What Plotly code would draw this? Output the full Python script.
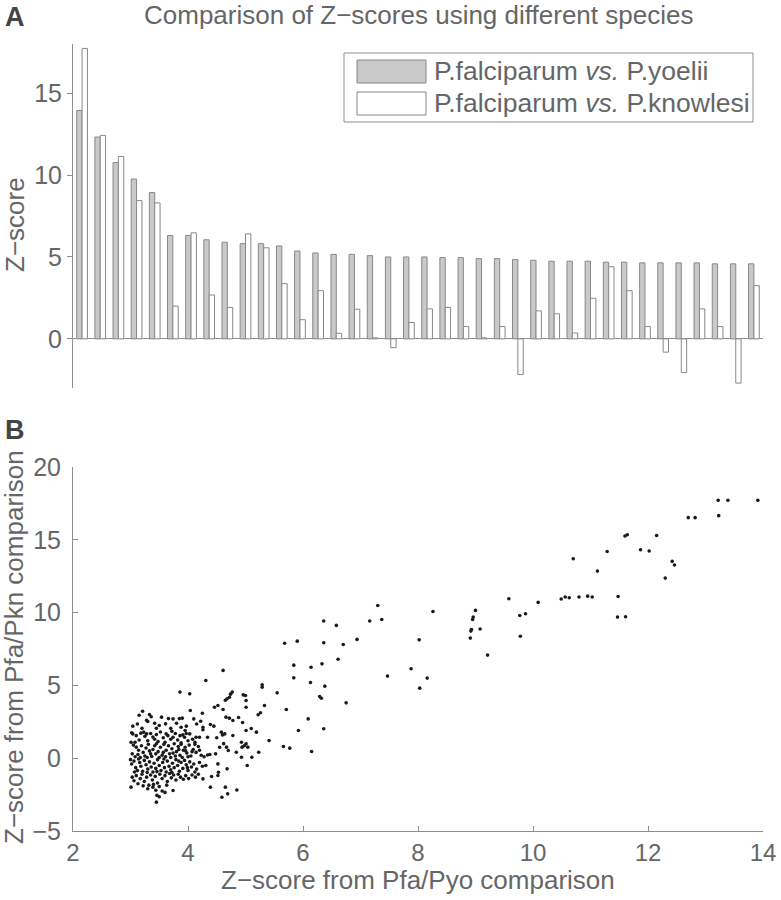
import plotly.graph_objects as go

# ---------------- data ----------------
# Panel A: Z-scores for the top-ranked genes (sorted by P.falciparum vs P.yoelii)
rank = list(range(1, 39))
z_pyo = [13.94, 12.32, 10.76, 9.76, 8.93, 6.31, 6.31, 6.05, 5.90, 5.81,
         5.81, 5.67, 5.36, 5.24, 5.16, 5.16, 5.08, 5.00, 5.00, 5.00,
         4.96, 4.96, 4.90, 4.90, 4.84, 4.80, 4.74, 4.74, 4.74, 4.68,
         4.68, 4.64, 4.64, 4.64, 4.64, 4.58, 4.58, 4.58]
z_pkn = [17.73, 12.42, 11.13, 8.44, 8.30, 2.00, 6.47, 2.68, 1.92, 6.41,
         5.56, 3.37, 1.17, 2.94, 0.34, 1.81, 0.06, -0.54, 1.00, 1.83,
         1.92, 0.75, 0.06, 0.75, -2.18, 1.71, 1.53, 0.36, 2.48, 4.40,
         2.94, 0.75, -0.81, -2.06, 1.83, 0.75, -2.70, 3.25]

# Panel B: Z-score from Pfa/Pyo (x) vs Z-score from Pfa/Pkn (y)
scatter_pyo = [
    # upper cluster rim
    3.04, 3.02, 3.15, 3.21, 3.30, 3.28, 3.36, 3.42, 3.54, 3.61, 3.66, 3.74, 3.85, 3.90, 3.86, 4.03,
    4.04, 4.10, 4.22, 4.25, 4.31, 3.45, 3.88, 4.26, 4.39, 3.97, 3.70, 3.20, 3.12, 3.50, 4.15, 3.80, 3.33,
    # y 1..2
    3.04, 3.10, 3.18, 3.23, 3.28, 3.25, 3.35, 3.39, 3.45, 3.52, 3.57, 3.62, 3.65, 3.70, 3.74, 3.78,
    3.82, 3.86, 3.91, 3.94, 3.97, 4.03, 4.08, 4.14, 4.20, 4.26, 4.34, 3.15, 3.30, 3.48, 3.60, 3.88,
    4.00, 4.12, 3.08, 3.42, 3.72, 3.95,
    # y 0..1
    3.01, 3.05, 3.10, 3.14, 3.19, 3.22, 3.27, 3.31, 3.35, 3.39, 3.42, 3.45, 3.48, 3.52, 3.55, 3.58,
    3.62, 3.66, 3.68, 3.72, 3.76, 3.80, 3.83, 3.86, 3.88, 3.92, 3.95, 3.98, 4.02, 4.05, 4.09, 4.14,
    4.18, 4.23, 4.28, 4.34, 3.03, 3.08, 3.13, 3.17, 3.25, 3.29, 3.33, 3.37, 3.44, 3.50, 3.57, 3.61,
    3.70, 3.74, 3.78, 3.84, 3.90, 3.96, 4.00, 4.07, 4.12, 4.20,
    # y -1..0
    3.00, 3.02, 3.06, 3.09, 3.12, 3.16, 3.18, 3.21, 3.24, 3.27, 3.30, 3.33, 3.36, 3.39, 3.41, 3.44,
    3.47, 3.50, 3.53, 3.56, 3.59, 3.62, 3.64, 3.67, 3.70, 3.73, 3.76, 3.79, 3.82, 3.85, 3.88, 3.91,
    3.94, 3.97, 4.00, 4.03, 4.06, 4.10, 4.15, 4.20, 4.25, 4.31, 3.07, 3.14, 3.29, 3.46, 3.58, 3.72,
    3.84, 3.99, 4.12,
    # y -2..-1
    3.01, 3.03, 3.06, 3.10, 3.13, 3.17, 3.20, 3.24, 3.28, 3.32, 3.35, 3.38, 3.43, 3.47, 3.51, 3.55,
    3.60, 3.64, 3.68, 3.71, 3.75, 3.79, 3.83, 3.87, 3.92, 3.96, 4.01, 4.07, 4.13, 4.26, 4.18, 3.50,
    3.40, 3.22, 3.63,
    # y < -2
    3.39, 3.44, 3.46, 3.50, 3.45, 3.55, 3.74, 3.60, 4.39, 4.41, 3.30,
    # mid region
    4.61, 5.29, 5.29, 5.55, 4.77, 4.74, 4.72, 4.68, 4.65, 5.00, 5.01, 5.01, 4.96, 4.46, 4.52, 4.61,
    4.66, 4.72, 4.78, 5.33, 5.22, 5.26, 5.23, 5.19, 5.10, 5.01, 4.58, 4.64, 4.60, 4.78, 4.93, 4.94,
    5.04, 5.01, 4.98, 4.93, 5.11, 5.03, 4.84, 4.67, 4.70, 4.48, 4.38, 4.52, 4.53, 4.52, 4.68, 4.65,
    4.85, 4.59, 4.69, 5.41, 4.95, 4.50, 4.45, 4.88, 4.55, 4.62,
    # upper right
    5.68, 5.90, 5.84, 5.84, 5.71, 5.66, 5.77, 5.92, 6.09, 6.13, 6.14, 6.15, 6.29, 6.32, 6.33, 6.36,
    6.36, 6.38, 6.36, 6.58, 6.61, 6.70, 6.75, 6.94, 7.16, 7.30, 7.37, 7.47, 7.88, 8.02, 8.03, 8.16,
    8.26, 8.91, 8.92, 8.93, 8.95, 8.96, 9.00, 9.08, 9.21, 9.58, 9.77, 9.78, 9.87, 10.09, 10.49, 10.56,
    10.63, 10.80, 10.95, 11.03, 10.70, 11.12, 11.29, 11.48, 11.47, 11.61, 11.60, 11.64, 11.87, 12.02,
    12.15, 12.30, 12.42, 12.46, 12.70, 12.82, 13.22, 13.39, 13.23, 13.91,
]
scatter_pkn = [
    # upper cluster rim
    2.20, 1.75, 2.95, 3.22, 2.52, 2.60, 2.85, 2.40, 2.82, 2.36, 2.72, 2.70, 2.72, 2.75, 4.54, 4.42,
    3.28, 2.70, 2.54, 3.09, 5.34, 2.06, 2.13, 2.13, 2.31, 2.20, 2.05, 2.05, 2.35, 2.25, 2.35, 2.40, 3.00,
    # y 1..2
    1.67, 1.55, 1.72, 1.79, 1.67, 1.50, 1.70, 1.45, 1.62, 1.80, 1.40, 1.67, 1.55, 1.30, 1.44, 1.70,
    1.25, 1.55, 1.60, 1.44, 1.70, 1.67, 1.30, 1.44, 1.44, 1.95, 1.44, 1.25, 1.20, 1.15, 1.10, 1.05,
    1.20, 1.10, 1.10, 1.30, 1.85, 1.90,
    # y 0..1
    1.10, 0.90, 0.76, 0.55, 0.85, 0.40, 0.70, 0.95, 0.30, 0.60, 0.85, 0.99, 0.45, 0.75, 0.20, 0.95,
    0.55, 0.85, 0.30, 0.65, 0.99, 0.45, 0.80, 0.20, 0.95, 0.55, 0.75, 0.35, 0.90, 0.15, 0.60, 0.40,
    0.80, 0.20, 0.10, 0.22, 0.30, 0.10, 0.25, 0.05, 0.15, 0.05, 0.50, 0.12, 0.30, 0.05, 0.40, 0.10,
    0.05, 0.35, 0.15, 0.60, 0.05, 0.50, 0.10, 0.45, 0.95, 0.55,
    # y -1..0
    -0.10, -0.40, -0.20, -0.65, -0.85, -0.30, -0.55, -0.90, -0.15, -0.45, -0.75, -0.25, -0.60, -0.95, -0.35, -0.70,
    -0.10, -0.50, -0.85, -0.30, -0.65, -0.95, -0.20, -0.55, -0.80, -0.35, -0.65, -0.10, -0.50, -0.90, -0.30, -0.70,
    -0.15, -0.45, -0.85, -0.25, -0.60, -0.40, -0.75, -0.30, -0.55, -0.50, -0.95, -0.05, -0.98, -0.92, -0.05, -0.98,
    -0.20, -0.65, -0.95,
    # y -2..-1
    -1.99, -1.30, -1.55, -1.20, -1.75, -1.40, -1.10, -1.60, -1.30, -1.85, -1.15, -1.50, -1.25, -1.70, -1.10, -1.40,
    -1.20, -1.60, -1.05, -1.35, -1.15, -1.50, -1.10, -1.30, -1.45, -1.20, -1.40, -1.15, -1.30, -1.42, -1.10, -1.95,
    -1.80, -1.90, -1.85,
    # y < -2
    -1.99, -2.20, -2.55, -2.65, -3.02, -2.25, -2.22, -2.35, -1.99, -1.26, -2.10,
    # mid region
    6.03, 5.04, 4.88, 4.49, 4.54, 4.40, 4.19, 4.08, 3.98, 4.31, 3.96, 3.50, 4.35, 3.50, 3.62, 3.34,
    2.82, 2.75, 2.59, 3.62, 2.98, 3.12, 0.41, 1.79, 2.04, 1.90, 1.79, 1.67, 1.60, 1.56, 1.10, 0.76,
    0.76, 0.99, 0.85, 0.07, 0.07, -0.50, 0.41, 0.76, 0.53, 0.30, 0.25, -0.39, -0.96, -1.19, -0.73, -1.99,
    -2.18, -2.68, -2.45, 1.21, 2.45, 1.40, 2.20, 2.80, 0.75, 1.00,
    # upper right
    7.90, 8.04, 6.39, 5.52, 3.34, 0.80, 0.69, 1.90, 2.70, 5.20, 6.25, 0.46, 4.24, 4.12, 6.48, 9.42,
    7.93, 4.95, 2.02, 9.12, 6.80, 7.81, 3.80, 8.16, 9.42, 10.49, 9.53, 5.64, 6.14, 8.13, 4.81, 5.50,
    10.08, 8.25, 8.73, 8.84, 9.53, 9.69, 10.15, 8.87, 7.08, 10.95, 9.80, 8.38, 9.92, 10.70, 10.93, 11.07,
    11.02, 11.07, 11.13, 11.07, 13.70, 12.85, 14.20, 11.11, 9.69, 9.71, 15.26, 15.35, 14.32, 14.23,
    15.30, 12.37, 13.52, 13.27, 16.52, 16.52, 17.71, 17.71, 16.66, 17.71,
]

series_names = ["P.falciparum <i>vs.</i> P.yoelii", "P.falciparum <i>vs.</i> P.knowlesi"]
top_ticks = [0, 5, 10, 15]
bottom_xticks = [2, 4, 6, 8, 10, 12, 14]
bottom_yticks = [-5, 0, 5, 10, 15, 20]

# ---------------- layout helpers ----------------
W, H = 781, 900
ML, MR, MT, MB = 73, 18, 44, 69
PW, PH = W - ML - MR, H - MT - MB

def px(xp):
    return (xp - ML) / PW

def py(yp):
    return (H - MB - yp) / PH

FONT = "Liberation Sans, Arial, Helvetica, sans-serif"
TXT = "#666666"
AXC = "#8f8f8f"
EDGE = "#888888"
GRAYFILL = "#c9c9c9"

fig = go.Figure()
fig.add_trace(go.Bar(x=rank, y=z_pyo, name=series_names[0], marker=dict(color=GRAYFILL, line=dict(color=EDGE, width=1)),
                     xaxis="x", yaxis="y", showlegend=False, hoverinfo="skip"))
fig.add_trace(go.Bar(x=rank, y=z_pkn, name=series_names[1], marker=dict(color="white", line=dict(color=EDGE, width=1)),
                     xaxis="x", yaxis="y", showlegend=False, hoverinfo="skip"))
fig.add_trace(go.Scatter(x=scatter_pyo, y=scatter_pkn, mode="markers",
                         marker=dict(color="#1a1a1a", size=3.6, line=dict(width=0)),
                         xaxis="x2", yaxis="y2", showlegend=False, hoverinfo="skip"))

top_dom = [py(388), 1.0]
bot_dom = [0.0, py(467)]

fig.update_layout(
    width=W, height=H,
    margin=dict(l=ML, r=MR, t=MT, b=MB),
    paper_bgcolor="white", plot_bgcolor="white",
    barmode="group", bargap=0.41, bargroupgap=0.0,
    font=dict(family=FONT, size=24, color=TXT),
    xaxis=dict(domain=[0, 1], range=[0.5, 38.5], showticklabels=False, ticks="", showline=False,
               showgrid=False, zeroline=False, automargin=False, anchor="y"),
    yaxis=dict(domain=top_dom, range=[-3, 18], tickvals=top_ticks, ticks="outside", ticklen=5,
               tickcolor=AXC, showline=True, linecolor=AXC, linewidth=1, showgrid=False,
               zeroline=True, zerolinecolor=AXC, zerolinewidth=1, automargin=False, anchor="x",
               tickfont=dict(size=25, color=TXT)),
    xaxis2=dict(domain=[0, 1], range=[2, 14], tickvals=bottom_xticks, ticks="inside", ticklen=5,
                tickcolor=AXC, showline=True, linecolor=AXC, linewidth=1, showgrid=False,
                zeroline=False, automargin=False, anchor="y2", tickfont=dict(size=24, color=TXT)),
    yaxis2=dict(domain=bot_dom, range=[-5, 20], tickvals=bottom_yticks, ticks="inside", ticklen=5,
                tickcolor=AXC, showline=True, linecolor=AXC, linewidth=1, showgrid=False,
                zeroline=False, automargin=False, anchor="x2", ticklabelstandoff=6,
                tickfont=dict(size=25, color=TXT)),
)

ann = []
# title
ann.append(dict(text="Comparison of Z\u2212scores using different species", x=px(418), y=py(15),
                xref="paper", yref="paper", showarrow=False, xanchor="center", yanchor="middle",
                font=dict(size=26, color=TXT)))
# panel letters
ann.append(dict(text="<b>A</b>", x=px(3), y=py(17), xref="paper", yref="paper", showarrow=False,
                xanchor="left", yanchor="middle", font=dict(size=27, color="#444444")))
ann.append(dict(text="<b>B</b>", x=px(3), y=py(430), xref="paper", yref="paper", showarrow=False,
                xanchor="left", yanchor="middle", font=dict(size=27, color="#444444")))
# axis titles
ann.append(dict(text="Z\u2212score", x=px(15), y=py(225), xref="paper", yref="paper", showarrow=False,
                textangle=-90, xanchor="center", yanchor="middle", font=dict(size=26, color=TXT)))
ann.append(dict(text="Z\u2212score from Pfa/Pkn comparison", x=px(14), y=py(647), xref="paper", yref="paper",
                showarrow=False, textangle=-90, xanchor="center", yanchor="middle", font=dict(size=26, color=TXT)))
ann.append(dict(text="Z\u2212score from Pfa/Pyo comparison", x=px(418), y=py(880), xref="paper", yref="paper",
                showarrow=False, xanchor="center", yanchor="middle", font=dict(size=26, color=TXT)))
# legend text
for i, yc in enumerate([71.5, 103.5]):
    ann.append(dict(text=series_names[i], x=px(432), y=py(yc), xref="paper", yref="paper", showarrow=False,
                    xanchor="left", yanchor="middle", font=dict(size=26.5, color=TXT)))

shapes = []
shapes.append(dict(type="rect", xref="paper", yref="paper", x0=px(344), x1=px(753), y0=py(122), y1=py(53),
                   line=dict(color=AXC, width=1), fillcolor="white", layer="above"))
shapes.append(dict(type="rect", xref="paper", yref="paper", x0=px(357), x1=px(426), y0=py(83), y1=py(60),
                   line=dict(color=EDGE, width=1), fillcolor=GRAYFILL, layer="above"))
shapes.append(dict(type="rect", xref="paper", yref="paper", x0=px(357), x1=px(426), y0=py(115), y1=py(92),
                   line=dict(color=EDGE, width=1), fillcolor="white", layer="above"))

fig.update_layout(annotations=ann, shapes=shapes)
fig.write_html("out.html", config={"displayModeBar": False},
               post_script="document.body.style.margin='0px';")
